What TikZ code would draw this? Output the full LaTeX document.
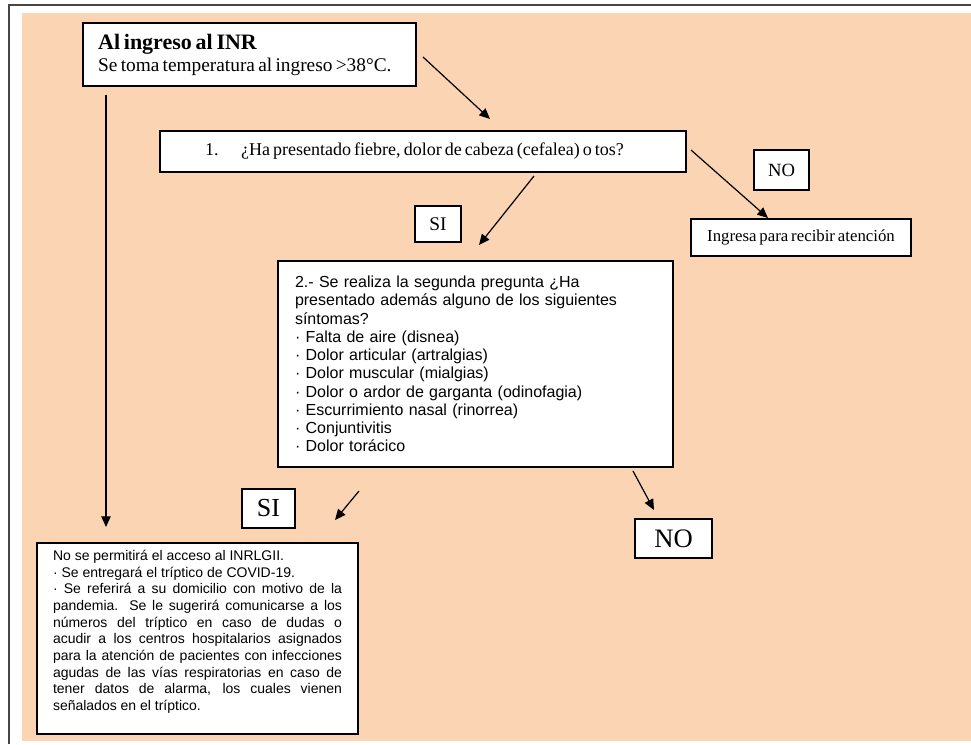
\documentclass[tikz,border=0pt]{standalone}
\usepackage{fontspec}
\setmainfont{Liberation Serif}
\newfontfamily\arial{Liberation Sans}
\usetikzlibrary{arrows.meta,positioning}
\definecolor{durazno}{RGB}{251,212,180}
\definecolor{marco}{RGB}{70,70,70}
% espacios estrechos entre palabras
\newcommand\apretado{\spaceskip=0.17em plus 0.05em\relax}

\begin{document}
\begin{tikzpicture}[x=0.75pt,y=-0.75pt,
    caja/.style={draw=black,line width=1.1pt,fill=white,inner sep=0pt},
    flecha/.style={line width=0.9pt,-{Triangle[length=8pt,width=7pt]}}]
  \useasboundingbox (0,0) rectangle (971,744);
  % fondo y marco
  \fill[durazno] (22,13) rectangle (971,741);
  \draw[marco,line width=1.6pt] (9,744) -- (9,5) -- (971,5);

  % cajas
  \node[caja,minimum width=249.75pt,minimum height=47.25pt,text width=227pt,align=left,
        font=\fontsize{14.5}{16.5}\selectfont] (ingreso) at (249.5,54.5)
    {{\fontsize{16.5}{16.5}\selectfont\apretado\textbf{Al ingreso al INR}}\\
     \apretado Se toma temperatura al ingreso >38°C.};
  \node[caja,minimum height=30.75pt,text width=394.5pt,align=left,
        font=\fontsize{13.5}{16}\selectfont] (preg1) at (423,151.5)
    {\apretado\hspace*{33.75pt}1.\hspace{17pt}¿Ha presentado fiebre, dolor de cabeza (cefalea) o tos?};
  \node[caja,minimum width=41.25pt,minimum height=30pt,
        font=\fontsize{14}{16}\selectfont] (no1) at (781.5,170) {NO};
  \node[caja,minimum width=165pt,minimum height=27.75pt,
        font=\fontsize{12.6}{15}\selectfont\apretado] (atencion) at (801,237.5) {Ingresa para recibir atención};
  \node[caja,minimum width=34.5pt,minimum height=27pt,
        font=\fontsize{14.5}{16}\selectfont] (si1) at (438,224) {SI};
  \node[caja,minimum width=296.25pt,minimum height=154.5pt,text width=270.75pt,align=left,
        font=\arial\fontsize{12}{13.7}\selectfont] (preg2) at (475.5,364)
    {2.- Se realiza la segunda pregunta ¿Ha\\
     presentado además alguno de los siguientes\\
     síntomas?\\
     · Falta de aire (disnea)\\
     · Dolor articular (artralgias)\\
     · Dolor muscular (mialgias)\\
     · Dolor o ardor de garganta (odinofagia)\\
     · Escurrimiento nasal (rinorrea)\\
     · Conjuntivitis\\
     · Dolor torácico};
  \node[caja,minimum width=39.75pt,minimum height=29.25pt,
        font=\fontsize{19.5}{21}\selectfont] (si2) at (268.5,508.5) {SI};
  \node[caja,minimum width=57.75pt,minimum height=29.25pt,
        font=\fontsize{20}{22}\selectfont] (no2) at (673.5,538.5) {NO};
  \node[caja,minimum width=240.75pt,minimum height=143.25pt,text width=216.75pt,align=justify,
        font=\arial\fontsize{10.5}{12.5}\selectfont] (acceso) at (197.5,638.5)
    {\tolerance=10000\relax\hyphenpenalty=10000\relax
     No se permitirá el acceso al INRLGII.\\
     · Se entregará el tríptico de COVID-19.\\
     · Se referirá a su domicilio con motivo de la\linebreak
     pandemia. Se le sugerirá comunicarse a los\linebreak
     números del tríptico en caso de dudas o\linebreak
     acudir a los centros hospitalarios asignados\linebreak
     para la atención de pacientes con infecciones\linebreak
     agudas de las vías respiratorias en caso de\linebreak
     tener datos de alarma, los cuales vienen\linebreak
     señalados en el tríptico.\par\rule{0pt}{1pt}};

  % flechas
  \coordinate (a0) at (423,57);  \coordinate (a1) at (490,119);
  \coordinate (b0) at (691,150); \coordinate (b1) at (768,218);
  \coordinate (c0) at (534,176); \coordinate (c1) at (479,245);
  \coordinate (d0) at (106,95);  \coordinate (d1) at (106,527);
  \coordinate (e0) at (359,491); \coordinate (e1) at (335,520);
  \coordinate (f0) at (633,471); \coordinate (f1) at (654,510);
  \foreach \i/\j in {a0/a1,b0/b1,c0/c1,d0/d1,e0/e1,f0/f1}
    \draw[flecha] (\i) -- (\j);
\end{tikzpicture}
\end{document}
